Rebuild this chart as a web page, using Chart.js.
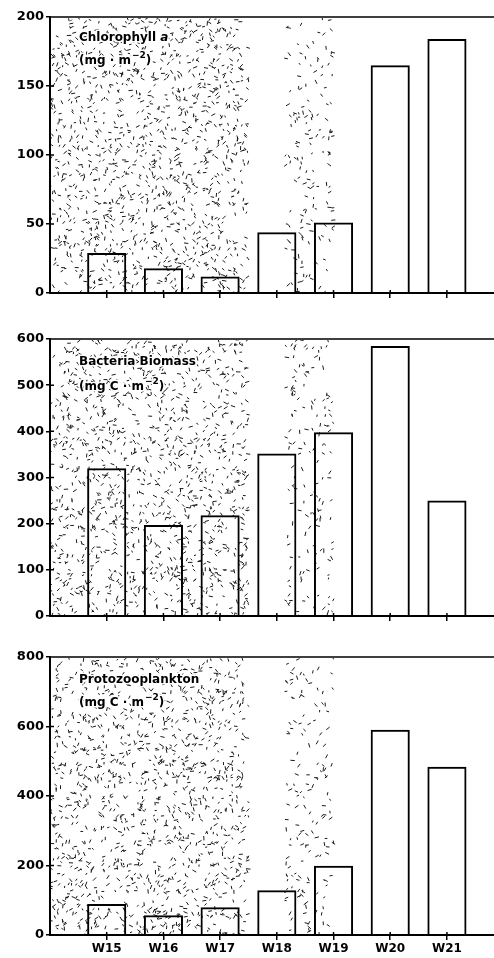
<!DOCTYPE html>
<html>
<head>
<meta charset="utf-8">
<script src="https://cdn.jsdelivr.net/npm/chart.js@4.4.1/dist/chart.umd.min.js"></script>
<style>
  body { margin: 0; background: #fff; }
  canvas { position: absolute; left: 0; }
</style>
</head>
<body>
<canvas id="chl" width="494" height="310" style="top:0px"></canvas>
<canvas id="bac" width="494" height="311" style="top:322px"></canvas>
<canvas id="pro" width="494" height="318" style="top:640px"></canvas>
<script>
// sampling weeks
const weeks = ['W15', 'W16', 'W17', 'W18', 'W19', 'W20', 'W21'];

// values
const chlorophyll = [29, 18, 12, 44, 51, 165, 184];
const bacteria = [320, 197, 218, 352, 398, 585, 250];
const protozoo = [89, 57, 80, 129, 199, 591, 484];

// y axis ticks for each panel
const chlTicks = [0, 50, 100, 150, 200];
const bacTicks = [0, 100, 200, 300, 400, 500, 600];
const proTicks = [0, 200, 400, 600, 800];

// shaded (stippled) periods, in week index units
const shadeSpans = [
    { from: -1, to: 2.5, density: 42 },
    { from: 3.15, to: 4.0, density: 85 }
];

const FONT = "'DejaVu Sans', sans-serif";

// dashes drawn at pseudo random spots, seeded so every render looks the same
function drawStipple(chart) {
    const ctx = chart.ctx;
    const a = chart.chartArea;
    const x = chart.scales.x;
    let seed = 1234 + chart.id * 977;
    const rnd = () => (seed = (seed * 16807) % 2147483647) / 2147483647;

    ctx.save();
    ctx.beginPath();
    ctx.rect(a.left + 1, a.top + 1, a.right - a.left - 1, a.bottom - a.top - 2);
    ctx.clip();
    ctx.strokeStyle = '#1a1a1a';
    ctx.lineWidth = 1;
    shadeSpans.forEach(span => {
        const x0 = x.getPixelForValue(span.from);
        const x1 = x.getPixelForValue(span.to);
        const h = a.bottom - a.top;
        const n = Math.round((x1 - x0) * h / span.density);
        ctx.beginPath();
        for (let i = 0; i < n; i++) {
            const px = x0 + rnd() * (x1 - x0);
            const py = a.top + rnd() * h;
            const ang = rnd() * Math.PI;
            const len = 2 + rnd() * 2.5;
            const dx = Math.cos(ang) * len / 2, dy = Math.sin(ang) * len / 2;
            ctx.moveTo(px - dx, py - dy);
            ctx.lineTo(px + dx, py + dy);
        }
        ctx.stroke();
    });
    ctx.restore();
}

function haloText(ctx, text, x, y) {
    ctx.strokeText(text, x, y);
    ctx.fillText(text, x, y);
    return x + ctx.measureText(text).width;
}

function drawTitle(chart, name, italicPart, unit, dy1, dy2) {
    const ctx = chart.ctx;
    const a = chart.chartArea;
    const x0 = 79;
    ctx.save();
    ctx.textBaseline = 'middle';
    ctx.fillStyle = '#000';
    ctx.strokeStyle = '#fff';
    ctx.lineWidth = 3;
    ctx.lineJoin = 'round';
    ctx.font = 'bold 12px ' + FONT;
    let x = haloText(ctx, name, x0, a.top + dy1);
    if (italicPart) {
        ctx.font = 'italic bold 12px ' + FONT;
        haloText(ctx, ' ' + italicPart, x, a.top + dy1);
    }
    ctx.font = 'bold 12px ' + FONT;
    x = haloText(ctx, '(' + unit + ' · m', x0, a.top + dy2);
    ctx.font = 'bold 9px ' + FONT;
    x = haloText(ctx, '−2', x + 1, a.top + dy2 - 5);
    ctx.font = 'bold 12px ' + FONT;
    haloText(ctx, ')', x, a.top + dy2);
    ctx.restore();
}

// tick stubs inside the plot plus the top frame line
function drawFrame(chart) {
    const ctx = chart.ctx;
    const a = chart.chartArea;
    ctx.save();
    ctx.strokeStyle = '#000';
    ctx.lineWidth = 1.5;
    ctx.beginPath();
    ctx.moveTo(a.left, a.top);
    ctx.lineTo(a.right, a.top);
    chart.scales.y.ticks.forEach(t => {
        const py = chart.scales.y.getPixelForValue(t.value);
        ctx.moveTo(a.left, py);
        ctx.lineTo(a.left + 4, py);
    });
    chart.scales.x.ticks.forEach(t => {
        const px = chart.scales.x.getPixelForValue(t.value);
        ctx.moveTo(px, a.bottom);
        ctx.lineTo(px, a.bottom - 3);
    });
    ctx.stroke();
    ctx.restore();
}

function makePanel(id, values, yTicks, title, showLabels) {
    const yMax = yTicks[yTicks.length - 1];
    new Chart(document.getElementById(id), {
        type: 'bar',
        data: {
            datasets: [{
                data: values.map((v, i) => ({ x: i, y: v })),
                backgroundColor: 'rgba(0,0,0,0)',
                borderColor: '#000',
                borderWidth: 2,
                barPercentage: 0.69,
                categoryPercentage: 1
            }]
        },
        options: {
            responsive: false,
            animation: false,
            devicePixelRatio: 1,
            layout: { padding: { top: 17, left: 0, right: 0, bottom: 0 } },
            plugins: { legend: { display: false }, tooltip: { enabled: false } },
            scales: {
                x: {
                    type: 'linear',
                    min: -1,
                    max: 6.83,
                    offset: false,
                    afterBuildTicks: s => { s.ticks = weeks.map((w, i) => ({ value: i })); },
                    afterFit: s => { s.height = showLabels ? 23 : 17; },
                    grid: { offset: false, drawOnChartArea: false, color: '#000', lineWidth: 1.5, tickLength: 5 },
                    border: { color: '#000', width: 2 },
                    ticks: {
                        display: showLabels,
                        padding: 2,
                        color: '#000',
                        font: { family: FONT, size: 12, weight: 'bold' },
                        callback: v => weeks[v] || ''
                    }
                },
                y: {
                    min: 0,
                    max: yMax,
                    afterBuildTicks: s => { s.ticks = yTicks.map(v => ({ value: v })); },
                    afterFit: s => { s.width = 50; },
                    grid: { drawOnChartArea: false, color: '#000', lineWidth: 1.5, tickLength: 4 },
                    border: { color: '#000', width: 2 },
                    ticks: {
                        padding: 2,
                        color: '#000',
                        font: { family: FONT, size: 13, weight: 'bold' }
                    }
                }
            }
        },
        plugins: [{
            id: 'decor',
            beforeDatasetsDraw: chart => drawStipple(chart),
            afterDatasetsDraw: chart => {
                drawFrame(chart);
                drawTitle(chart, title.name, title.italic, title.unit, title.dy1, title.dy2);
            }
        }]
    });
}

makePanel('chl', chlorophyll, chlTicks,
    { name: 'Chlorophyll', italic: 'a', unit: 'mg', dy1: 21, dy2: 44 }, false);
makePanel('bac', bacteria, bacTicks,
    { name: 'Bacteria Biomass', italic: '', unit: 'mg C', dy1: 23, dy2: 48 }, false);
makePanel('pro', protozoo, proTicks,
    { name: 'Protozooplankton', italic: '', unit: 'mg C', dy1: 23, dy2: 46 }, true);
</script>
</body>
</html>
